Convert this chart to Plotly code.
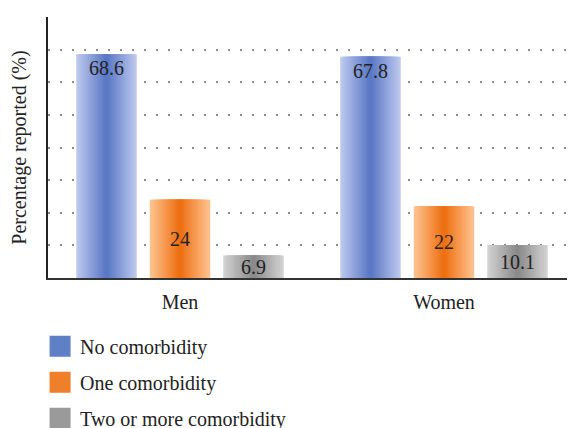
import plotly.graph_objects as go

categories = ["Men", "Women"]
series_names = ["No comorbidity", "One comorbidity", "Two or more comorbidity"]
no_comorbidity = [68.6, 67.8]
one_comorbidity = [24, 22]
two_or_more = [6.9, 10.1]

values = [no_comorbidity, one_comorbidity, two_or_more]
edge_colors = [(188, 200, 238), (253, 194, 142), (210, 210, 210)]
center_colors = [(90, 120, 196), (238, 112, 18), (138, 138, 138)]
legend_colors = ["#5f7fc6", "#f07f2a", "#9a9a9a"]
text_anchors = ["end", "middle", "middle"]

FONT = "Liberation Serif"
BAR_W = 0.229
N_LAYERS = 16

fig = go.Figure()

def mix(a, b, t):
    return "rgb(%d,%d,%d)" % tuple(round(a[i] + (b[i] - a[i]) * t) for i in range(3))

for s, (name, vals) in enumerate(zip(series_names, values)):
    for k in range(N_LAYERS):
        frac = 1 - k / N_LAYERS
        t = k / (N_LAYERS - 1)
        fig.add_trace(go.Bar(
            x=categories, y=vals, offsetgroup=str(s), width=BAR_W * frac,
            marker=dict(color=mix(edge_colors[s], center_colors[s], t), line=dict(width=0)),
            showlegend=False, hoverinfo="skip"))
    fig.add_trace(go.Bar(
        x=categories, y=vals, offsetgroup=str(s), width=BAR_W,
        marker=dict(color="rgba(0,0,0,0)", line=dict(width=0)),
        text=[str(v) for v in vals], textposition="inside", insidetextanchor=text_anchors[s],
        textangle=0, constraintext="none",
        textfont=dict(family=FONT, size=20, color="#222"),
        showlegend=False, hoverinfo="skip"))

for s, name in enumerate(series_names):
    fig.add_trace(go.Scatter(
        x=[None], y=[None], mode="markers", name=name, legendgroup=name,
        marker=dict(symbol="square", size=16, color=legend_colors[s],
                    line=dict(color=legend_colors[s], width=5))))

fig.update_layout(
    width=575, height=428,
    margin=dict(l=40, r=7, t=9, b=158, autoexpand=False),
    barmode="group", bargap=0.165,
    plot_bgcolor="white", paper_bgcolor="white",
    font=dict(family=FONT, size=20, color="#222"),
    legend=dict(x=-0.015, xanchor="left", y=-0.187, yanchor="top",
                font=dict(family=FONT, size=20, color="#222"),
                tracegroupgap=7, bgcolor="rgba(0,0,0,0)"),
    yaxis=dict(range=[0, 80], dtick=10, showticklabels=False, ticks="",
               showline=True, linecolor="#222", linewidth=1.5,
               showgrid=True, gridcolor="#8a8a8a", gridwidth=1.5, griddash="1.5px,10.5px",
               zeroline=False,
               title=dict(text="Percentage reported (%)", standoff=16,
                          font=dict(family=FONT, size=20, color="#222"))),
    xaxis=dict(showline=True, linecolor="#333", linewidth=2, ticks="",
               tickfont=dict(family=FONT, size=20, color="#222"),
               ticklabelstandoff=5),
)

fig.write_html("out.html")
